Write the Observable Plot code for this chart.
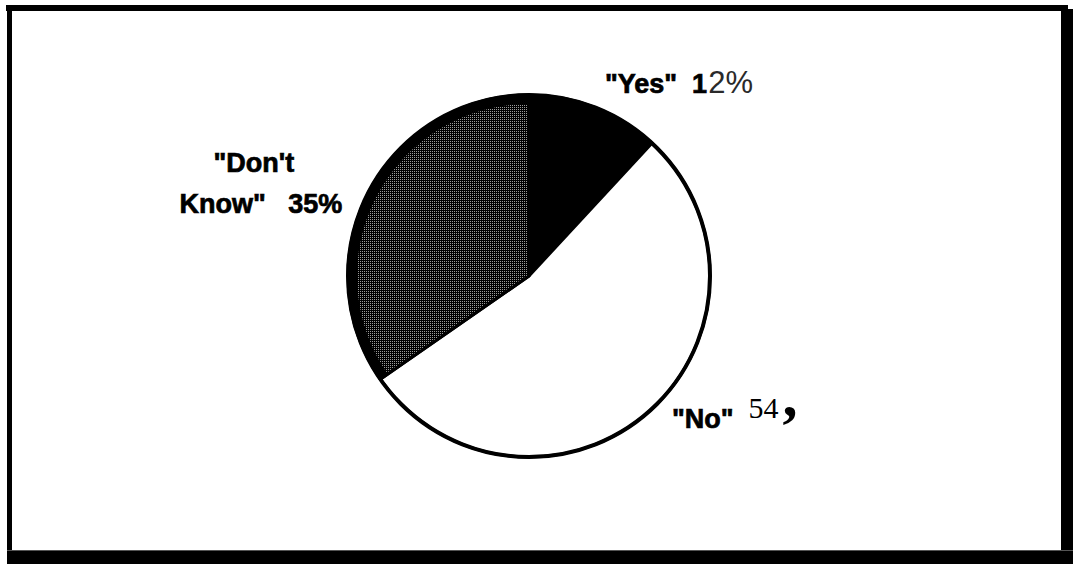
<!DOCTYPE html>
<html>
<head>
<meta charset="utf-8">
<script src="https://cdn.jsdelivr.net/npm/d3@7"></script>
<script src="https://cdn.jsdelivr.net/npm/@observablehq/plot@0.6"></script>
<style>
  html, body { margin: 0; padding: 0; background: #fff; }
  #wrap { position: relative; width: 1073px; height: 564px; overflow: hidden; background: #fff; }
  #chart { position: absolute; left: 0; top: 0; }
  .bar { position: absolute; background: #000; }
</style>
</head>
<body>
<div id="wrap">
  <div id="chart"></div>
  <div class="bar" style="left:6px;top:5px;width:1062px;height:6px"></div>
  <div class="bar" style="left:7px;top:5px;width:5px;height:546px"></div>
  <div class="bar" style="left:1061px;top:9px;width:12px;height:555px"></div>
  <div class="bar" style="left:7px;top:550px;width:1066px;height:14px;border-top:1px solid #555;box-sizing:border-box"></div>
</div>
<script>
// ---- data ----
const categories = ["Yes", "No", "Don't Know"];
const percents = [12, 54, 35];
// label fragments (text only)
const yesLabel = ['"Yes"  1', '2%'];
const noLabel = ['"No"  ', '54', ','];
const dkLabel = ['"Don\'t', 'Know"   35%'];

// ---- layout / style (not data) ----
const W = 1073, H = 564;
const pieLayout = { cx: 529, cy: 276, r: 181 };
const sliceFill = { "Yes": "#000", "No": "#fff", "Don't Know": "url(#stipple)" };
const boldFont = "'Liberation Sans', Arial, Helvetica, sans-serif";
const serifFont = "'Liberation Serif', 'Times New Roman', serif";
const heavy = 0.7; // extra stroke to mimic the heavy sans of the original

const rows = categories.map((c, i) => ({ category: c, value: percents[i] }));
const pie = d3.pie().sort(null).value(d => d.value).startAngle(0).endAngle(2 * Math.PI);
const arcs = pie(rows);

function pieMark(index, scales, values, dimensions, context) {
  const sx = (scales && scales.x) || (v => v);
  const sy = (scales && scales.y) || (v => v);
  const cx = sx(pieLayout.cx), cy = sy(pieLayout.cy);
  const r = sx(pieLayout.cx + pieLayout.r) - cx;
  const g = d3.create("svg:g");

  const defs = g.append("defs");
  const pat = defs.append("pattern")
    .attr("id", "stipple").attr("patternUnits", "userSpaceOnUse")
    .attr("x", 0).attr("y", 0).attr("width", 2).attr("height", 2);
  pat.append("rect").attr("width", 2).attr("height", 2).attr("fill", "#000");
  pat.append("rect").attr("x", 1).attr("y", 1).attr("width", 1).attr("height", 1).attr("fill", "#9a9a9a");

  const pg = g.append("g").attr("transform", `translate(${cx},${cy})`);
  const arc = d3.arc().innerRadius(0).outerRadius(r);
  pg.selectAll("path.slice").data(arcs).join("path")
    .attr("class", "slice")
    .attr("d", arc)
    .attr("fill", d => sliceFill[d.data.category])
    .attr("stroke", "#000")
    .attr("stroke-width", 3)
    .attr("stroke-linejoin", "round");

  // dark dithered rim on the stippled slice
  const dk = arcs.find(d => d.data.category === "Don't Know");
  pg.append("path")
    .attr("d", d3.arc().innerRadius(r - 9).outerRadius(r)(dk))
    .attr("fill", "#000");

  // outer outline
  pg.append("circle").attr("r", r).attr("fill", "none")
    .attr("stroke", "#000").attr("stroke-width", 4);

  // ---- labels ----
  const lab = g.append("g").style("white-space", "pre").attr("text-anchor", "start");
  // Yes
  const ty = lab.append("text")
    .attr("x", cx + 0.422 * 180).attr("y", cy - 1.017 * 180)
    .attr("text-anchor", "start")
    .attr("font-family", boldFont).attr("font-size", 27).attr("fill", "#000");
  ty.append("tspan").attr("font-weight", "bold").attr("stroke", "#000").attr("stroke-width", heavy).text(yesLabel[0]);
  ty.append("tspan").attr("font-weight", 300).attr("font-size", 31).attr("fill", "#2a2a2a").attr("dx", 1).text(yesLabel[1]);

  // No
  const tn = lab.append("text")
    .attr("x", cx + 0.794 * 180).attr("y", cy + 0.844 * 180)
    .attr("text-anchor", "start")
    .attr("font-family", boldFont).attr("font-size", 27).attr("fill", "#000");
  tn.append("tspan").attr("font-weight", "bold").attr("stroke", "#000").attr("stroke-width", heavy).text(noLabel[0]);
  tn.append("tspan").attr("font-family", serifFont).attr("font-size", 30).attr("dy", -10).text(noLabel[1]);
  tn.append("tspan").attr("font-family", serifFont).attr("font-weight", "bold").attr("font-size", 60).attr("dx", 4).attr("dy", -2).text(noLabel[2]);

  // Don't Know
  const tx = cx - 1.506 * 180;
  lab.append("text")
    .attr("x", tx - 4).attr("y", cy - 0.578 * 180)
    .attr("text-anchor", "middle")
    .attr("font-family", boldFont).attr("font-weight", "bold").attr("font-size", 27)
    .attr("stroke", "#000").attr("stroke-width", heavy)
    .text(dkLabel[0]);
  lab.append("text")
    .attr("x", tx + 3).attr("y", cy - 0.578 * 180 + 41)
    .attr("text-anchor", "middle")
    .attr("font-family", boldFont).attr("font-weight", "bold").attr("font-size", 27)
    .attr("stroke", "#000").attr("stroke-width", heavy)
    .text(dkLabel[1]);

  return g.node();
}

const chart = Plot.plot({
  width: W,
  height: H,
  margin: 0,
  style: { background: "#fff" },
  x: { domain: [0, W], range: [0, W], axis: null },
  y: { domain: [0, H], range: [0, H], axis: null },
  marks: [pieMark]
});
document.getElementById("chart").appendChild(chart);
</script>
</body>
</html>
